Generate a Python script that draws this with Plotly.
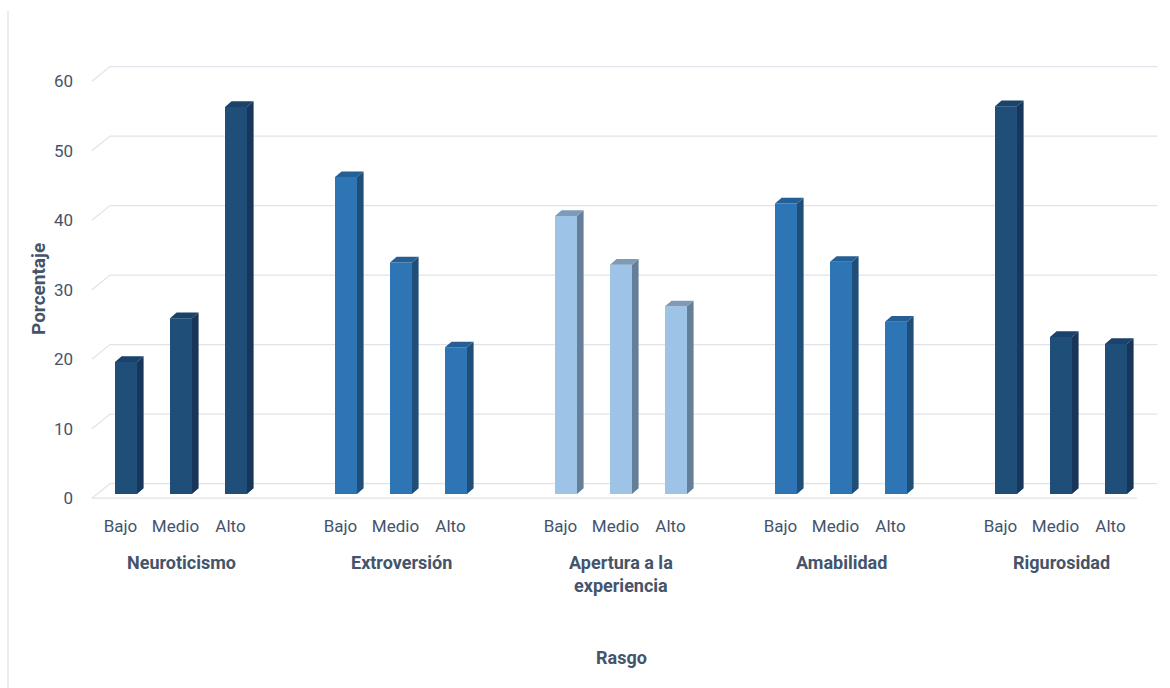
import plotly.graph_objects as go

# ---- data -------------------------------------------------------------
traits = ["Neuroticismo", "Extroversión", "Apertura a la<br>experiencia", "Amabilidad", "Rigurosidad"]
levels = ["Bajo", "Medio", "Alto"]
neuroticismo = [19.0, 25.3, 55.7]
extroversion = [45.6, 33.3, 21.1]
apertura = [40.0, 33.0, 27.0]
amabilidad = [41.8, 33.4, 24.8]
rigurosidad = [55.8, 22.6, 21.6]
y_ticks = [0, 10, 20, 30, 40, 50, 60]

series = [neuroticismo, extroversion, apertura, amabilidad, rigurosidad]

# face colours per trait: front, side, top
front_colors = ["#1F4E79", "#2E75B6", "#9DC3E6", "#2E75B6", "#1F4E79"]
side_colors = ["#17365A", "#1F4E79", "#657F99", "#1F4E79", "#17365A"]
top_colors = ["#1B426B", "#265F96", "#7E9AB8", "#265F96", "#1B426B"]

# ---- geometry of the pseudo-3D look (axis units) -----------------------
BAR_W = 0.4          # front face width in category slots
DX, DY = 0.12, 0.82  # depth offset of side/top faces
FRONT_OFF, BACK_OFF = -0.6, 1.5   # floor front edge / back wall offset
X_FRONT0, X_BACK0 = -0.62, -0.29
X_FRONT1, X_BACK1 = 18.38, 18.75
LABEL_SHIFT = -0.1   # category labels sit on the front edge of the floor

TEXT = "#44546A"
FONT = "Roboto, Arial, sans-serif"
GRID = "#E2E3EA"

L, R, T, B = 80, 5, 60, 180
W, H = 1170, 688
PX_PER_SLOT = 55.0
PX_PER_UNIT = 6.95
PLOT_W, PLOT_H = W - L - R, H - T - B
x0 = -46 / PX_PER_SLOT
x1 = x0 + PLOT_W / PX_PER_SLOT
y0 = -(H - B - 494) / PX_PER_UNIT
y1 = y0 + PLOT_H / PX_PER_UNIT

fig = go.Figure()

tick_x, tick_text = [], []
for g, vals in enumerate(series):
    xs = [g * 4 + i for i in range(len(levels))]
    tick_x += [x + LABEL_SHIFT for x in xs]
    tick_text += levels
    # front faces
    fig.add_trace(go.Bar(
        x=xs, y=vals, width=BAR_W,
        marker=dict(color=front_colors[g], line=dict(width=0)),
        hoverinfo="x+y", showlegend=False,
    ))
    # side and top faces, derived from each bar's value
    sx, sy, tx, ty = [], [], [], []
    for x, v in zip(xs, vals):
        xl, xr = x - BAR_W / 2, x + BAR_W / 2
        sx += [xr, xr + DX, xr + DX, xr, xr, None]
        sy += [0, DY, v + DY, v, 0, None]
        tx += [xl, xl + DX, xr + DX, xr, xl, None]
        ty += [v, v + DY, v + DY, v, v, None]
    fig.add_trace(go.Scatter(x=sx, y=sy, mode="lines", fill="toself",
                             fillcolor=side_colors[g], line=dict(width=0),
                             hoverinfo="skip", showlegend=False))
    fig.add_trace(go.Scatter(x=tx, y=ty, mode="lines", fill="toself",
                             fillcolor=top_colors[g], line=dict(width=0),
                             hoverinfo="skip", showlegend=False))

# gridlines in perspective: short diagonal on the side wall, then along the back wall
shapes = []
for v in y_ticks:
    shapes.append(dict(
        type="path", xref="x", yref="y", layer="below",
        path=f"M {X_FRONT0},{v + FRONT_OFF} L {X_BACK0},{v + BACK_OFF} L {X_BACK1},{v + BACK_OFF}",
        line=dict(color=GRID, width=1.3),
    ))
shapes.append(dict(type="line", xref="x", yref="y", layer="below",
                   x0=X_FRONT0, x1=X_FRONT1, y0=FRONT_OFF, y1=FRONT_OFF,
                   line=dict(color=GRID, width=1.3)))
# chart frame edge on the left
frame_x = (8 - L) / PLOT_W
shapes.append(dict(type="line", xref="paper", yref="paper",
                   x0=frame_x, x1=frame_x,
                   y0=-B / PLOT_H, y1=(H - B - 11) / PLOT_H,
                   line=dict(color="#D9D9D9", width=1)))

annotations = []
for g, name in enumerate(traits):
    annotations.append(dict(
        x=g * 4 + 1, xref="x", y=0, yref="paper", yanchor="top", xanchor="center",
        yshift=-42, text=f"<b>{name}</b>", showarrow=False,
        font=dict(family=FONT, size=18, color=TEXT), align="center",
    ))
annotations.append(dict(
    x=9, xref="x", y=0, yref="paper", yanchor="middle", xanchor="center",
    yshift=-(657 - (H - B)),
    text="<b>Rasgo</b>", showarrow=False, font=dict(family=FONT, size=18, color=TEXT),
))
annotations.append(dict(
    x=(38 - L) / PLOT_W, xref="paper", y=(H - B - 289) / PLOT_H, yref="paper",
    xanchor="center", yanchor="middle",
    text="<b>Porcentaje</b>", textangle=-90, showarrow=False,
    font=dict(family=FONT, size=19, color=TEXT),
))

fig.update_layout(
    width=W, height=H,
    margin=dict(l=L, r=R, t=T, b=B),
    paper_bgcolor="white", plot_bgcolor="white",
    barmode="overlay",
    shapes=shapes, annotations=annotations,
    xaxis=dict(range=[x0, x1], tickvals=tick_x, ticktext=tick_text,
               showgrid=False, zeroline=False, showline=False, ticks="",
               tickfont=dict(family=FONT, size=17, color=TEXT), ticklabelstandoff=6),
    yaxis=dict(range=[y0, y1], tickvals=[v + FRONT_OFF for v in y_ticks],
               ticktext=[str(v) for v in y_ticks],
               showgrid=False, zeroline=False, showline=False, ticks="",
               tickfont=dict(family=FONT, size=17, color=TEXT), ticklabelstandoff=6),
)

fig.write_html("out.html")
